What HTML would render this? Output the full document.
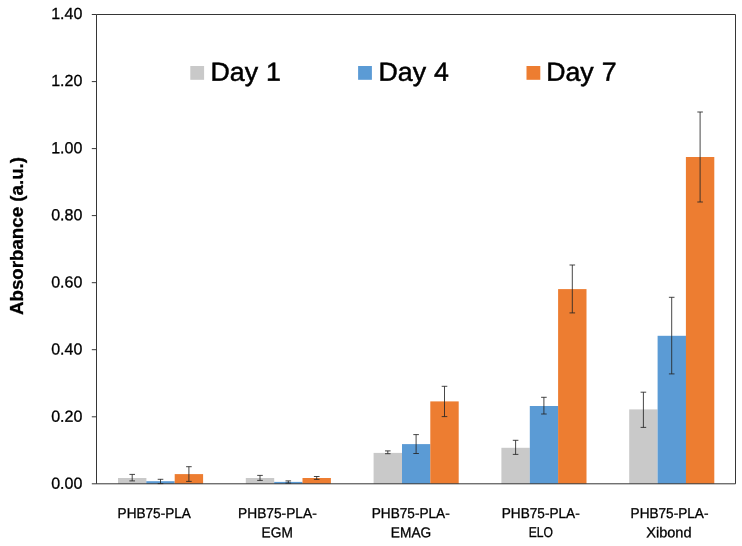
<!DOCTYPE html>
<html><head><meta charset="utf-8"><title>Absorbance chart</title>
<style>
html,body{margin:0;padding:0;background:#fff;}
body{width:742px;height:546px;overflow:hidden;}
svg{display:block;filter:blur(0.4px);}
text{font-family:"Liberation Sans",Arial,Helvetica,sans-serif;fill:#000;}
.yl{font-size:16px;text-anchor:end;stroke:#000;stroke-width:0.3px;}
.cat{font-size:14.2px;text-anchor:middle;fill:#000;stroke:#000;stroke-width:0.3px;}
.leg{font-size:26.2px;stroke:#000;stroke-width:0.5px;word-spacing:0.5px;}
.ttl{font-size:19.0px;font-weight:bold;text-anchor:middle;stroke:#000;stroke-width:0.3px;}
</style></head><body>
<svg width="742" height="546" viewBox="0 0 742 546">
<rect x="0" y="0" width="742" height="546" fill="#ffffff"/>
<rect x="118.0" y="478.0" width="28.4" height="5.8" fill="#c9c9c9"/>
<rect x="146.3" y="481.2" width="28.4" height="2.6" fill="#5b9bd5"/>
<rect x="174.7" y="474.1" width="28.4" height="9.7" fill="#ed7d31"/>
<rect x="245.8" y="478.0" width="28.4" height="5.8" fill="#c9c9c9"/>
<rect x="274.2" y="481.9" width="28.4" height="1.9" fill="#5b9bd5"/>
<rect x="302.5" y="478.0" width="28.4" height="5.8" fill="#ed7d31"/>
<rect x="373.6" y="452.9" width="28.4" height="30.9" fill="#c9c9c9"/>
<rect x="402.0" y="444.1" width="28.4" height="39.7" fill="#5b9bd5"/>
<rect x="430.3" y="401.4" width="28.4" height="82.4" fill="#ed7d31"/>
<rect x="501.4" y="447.8" width="28.4" height="36.0" fill="#c9c9c9"/>
<rect x="529.8" y="406.0" width="28.4" height="77.8" fill="#5b9bd5"/>
<rect x="558.1" y="289.1" width="28.4" height="194.7" fill="#ed7d31"/>
<rect x="629.2" y="409.4" width="28.4" height="74.4" fill="#c9c9c9"/>
<rect x="657.6" y="335.8" width="28.4" height="148.0" fill="#5b9bd5"/>
<rect x="685.9" y="157.0" width="28.4" height="326.8" fill="#ed7d31"/>
<path d="M96.5 14.5 H735.5 V483.8 H96.5 Z" fill="none" stroke="#363636" stroke-width="1.0"/>
<path d="M91.8 483.8 H96.5" stroke="#363636" stroke-width="1.0" fill="none"/>
<text class="yl" transform="translate(82.3 488.8) rotate(0.03)">0.00</text>
<path d="M91.8 416.8 H96.5" stroke="#363636" stroke-width="1.0" fill="none"/>
<text class="yl" transform="translate(82.3 421.7) rotate(0.03)">0.20</text>
<path d="M91.8 349.7 H96.5" stroke="#363636" stroke-width="1.0" fill="none"/>
<text class="yl" transform="translate(82.3 354.5) rotate(0.03)">0.40</text>
<path d="M91.8 282.7 H96.5" stroke="#363636" stroke-width="1.0" fill="none"/>
<text class="yl" transform="translate(82.3 287.4) rotate(0.03)">0.60</text>
<path d="M91.8 215.6 H96.5" stroke="#363636" stroke-width="1.0" fill="none"/>
<text class="yl" transform="translate(82.3 220.3) rotate(0.03)">0.80</text>
<path d="M91.8 148.6 H96.5" stroke="#363636" stroke-width="1.0" fill="none"/>
<text class="yl" transform="translate(82.3 153.2) rotate(0.03)">1.00</text>
<path d="M91.8 81.6 H96.5" stroke="#363636" stroke-width="1.0" fill="none"/>
<text class="yl" transform="translate(82.3 86.0) rotate(0.03)">1.20</text>
<path d="M91.8 14.5 H96.5" stroke="#363636" stroke-width="1.0" fill="none"/>
<text class="yl" transform="translate(82.3 18.9) rotate(0.03)">1.40</text>
<path d="M132.2 474.4 V480.9 M129.4 474.4 H135.0 M129.4 480.9 H135.0" stroke="#262626" stroke-width="0.85" fill="none"/>
<path d="M160.5 479.3 V483.6 M157.7 479.3 H163.3 M157.7 483.6 H163.3" stroke="#262626" stroke-width="0.85" fill="none"/>
<path d="M188.9 466.7 V481.4 M186.1 466.7 H191.7 M186.1 481.4 H191.7" stroke="#262626" stroke-width="0.85" fill="none"/>
<path d="M260.0 475.4 V480.4 M257.2 475.4 H262.8 M257.2 480.4 H262.8" stroke="#262626" stroke-width="0.85" fill="none"/>
<path d="M288.3 480.9 V483.1 M285.5 480.9 H291.1 M285.5 483.1 H291.1" stroke="#262626" stroke-width="0.85" fill="none"/>
<path d="M316.7 476.5 V479.4 M313.9 476.5 H319.5 M313.9 479.4 H319.5" stroke="#262626" stroke-width="0.85" fill="none"/>
<path d="M387.8 450.9 V453.7 M385.0 450.9 H390.6 M385.0 453.7 H390.6" stroke="#262626" stroke-width="0.85" fill="none"/>
<path d="M416.1 434.6 V453.5 M413.3 434.6 H418.9 M413.3 453.5 H418.9" stroke="#262626" stroke-width="0.85" fill="none"/>
<path d="M444.5 386.3 V416.6 M441.7 386.3 H447.3 M441.7 416.6 H447.3" stroke="#262626" stroke-width="0.85" fill="none"/>
<path d="M515.6 440.3 V454.4 M512.8 440.3 H518.4 M512.8 454.4 H518.4" stroke="#262626" stroke-width="0.85" fill="none"/>
<path d="M543.9 397.3 V414.0 M541.1 397.3 H546.7 M541.1 414.0 H546.7" stroke="#262626" stroke-width="0.85" fill="none"/>
<path d="M572.3 265.0 V312.9 M569.5 265.0 H575.1 M569.5 312.9 H575.1" stroke="#262626" stroke-width="0.85" fill="none"/>
<path d="M643.4 392.2 V427.4 M640.6 392.2 H646.2 M640.6 427.4 H646.2" stroke="#262626" stroke-width="0.85" fill="none"/>
<path d="M671.7 297.3 V373.9 M668.9 297.3 H674.5 M668.9 373.9 H674.5" stroke="#262626" stroke-width="0.85" fill="none"/>
<path d="M700.1 112.0 V202.0 M697.3 112.0 H702.9 M697.3 202.0 H702.9" stroke="#262626" stroke-width="0.85" fill="none"/>
<rect x="190.3" y="66.0" width="13.8" height="13.8" fill="#c9c9c9"/>
<text class="leg" transform="translate(210.5 80.7) rotate(0.03) scale(1.02 1)">Day 1</text>
<rect x="358.1" y="66.0" width="13.8" height="13.8" fill="#5b9bd5"/>
<text class="leg" transform="translate(378.5 80.7) rotate(0.03) scale(1.02 1)">Day 4</text>
<rect x="526.5" y="66.0" width="13.8" height="13.8" fill="#ed7d31"/>
<text class="leg" transform="translate(546.2 80.7) rotate(0.03) scale(1.02 1)">Day 7</text>
<text class="ttl" transform="translate(22.9 236.0) rotate(-90)" textLength="158" lengthAdjust="spacingAndGlyphs">Absorbance (a.u.)</text>
<text class="cat" transform="translate(154.2 518.1) rotate(0.03)" textLength="73.3" lengthAdjust="spacingAndGlyphs">PHB75-PLA</text>
<text class="cat" transform="translate(277.4 518.1) rotate(0.03)" textLength="78.6" lengthAdjust="spacingAndGlyphs">PHB75-PLA-</text>
<text class="cat" transform="translate(277.2 537.3) rotate(0.03)" textLength="31.2" lengthAdjust="spacingAndGlyphs">EGM</text>
<text class="cat" transform="translate(410.7 518.1) rotate(0.03)" textLength="77.9" lengthAdjust="spacingAndGlyphs">PHB75-PLA-</text>
<text class="cat" transform="translate(411.0 537.3) rotate(0.03)" textLength="40.3" lengthAdjust="spacingAndGlyphs">EMAG</text>
<text class="cat" transform="translate(540.7 518.1) rotate(0.03)" textLength="77.9" lengthAdjust="spacingAndGlyphs">PHB75-PLA-</text>
<text class="cat" transform="translate(540.9 537.3) rotate(0.03)" textLength="24.3" lengthAdjust="spacingAndGlyphs">ELO</text>
<text class="cat" transform="translate(669.5 518.1) rotate(0.03)" textLength="77.9" lengthAdjust="spacingAndGlyphs">PHB75-PLA-</text>
<text class="cat" transform="translate(668.9 537.3) rotate(0.03)" textLength="45.3" lengthAdjust="spacingAndGlyphs">Xibond</text>
</svg>
</body></html>
